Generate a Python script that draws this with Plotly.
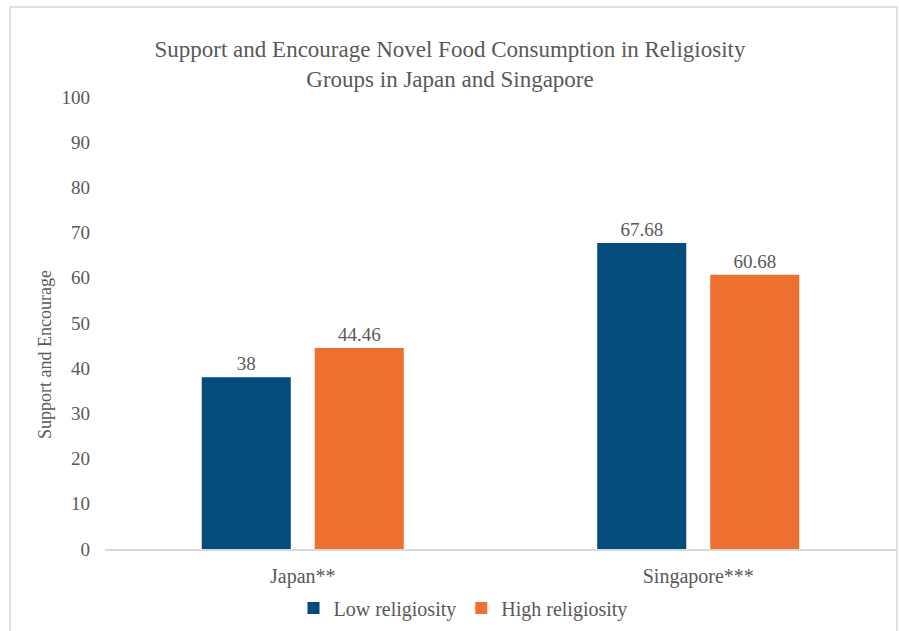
import plotly.graph_objects as go

categories = ["Japan**", "Singapore***"]
low_religiosity = [38, 67.68]
high_religiosity = [44.46, 60.68]
series_names = ["Low religiosity", "High religiosity"]
y_ticks = list(range(0, 101, 10))

BLUE = "#034C7C"
ORANGE = "#EE7030"
TEXT = "#595959"
FONT = "'Liberation Serif', 'Times New Roman', Times, serif"

fig = go.Figure()
fig.add_trace(go.Bar(
    x=categories, y=low_religiosity, name=series_names[0],
    marker=dict(color=BLUE, line=dict(width=0)),
    text=[f"{v:g}" for v in low_religiosity], textposition="outside",
    textfont=dict(family=FONT, size=19, color=TEXT), cliponaxis=False,
))
fig.add_trace(go.Bar(
    x=categories, y=high_religiosity, name=series_names[1],
    marker=dict(color=ORANGE, line=dict(width=0)),
    text=[f"{v:g}" for v in high_religiosity], textposition="outside",
    textfont=dict(family=FONT, size=19, color=TEXT), cliponaxis=False,
))

L, R, T, B = 105, 3, 97, 82
W, H = 899, 631
pw, ph = W - L - R, H - T - B

def px_x(x):
    return (x - L) / pw

def px_y(y):
    return (H - B - y) / ph

fig.update_layout(
    width=W, height=H,
    margin=dict(l=L, r=R, t=T, b=B, autoexpand=False),
    paper_bgcolor="white", plot_bgcolor="white",
    font=dict(family=FONT, color=TEXT, size=19),
    barmode="group", bargap=0.4286, bargroupgap=0.212,
    title=dict(
        text="Support and Encourage Novel Food Consumption in Religiosity<br>Groups in Japan and Singapore",
        font=dict(family=FONT, size=23, color=TEXT),
        x=450 / W, xref="container", xanchor="center",
        y=1 - 57 / H, yanchor="middle",
    ),
    xaxis=dict(
        showline=True, linecolor="#D9D9D9", linewidth=1.5,
        ticks="", showgrid=False, tickfont=dict(family=FONT, size=20, color=TEXT),
        ticklabelstandoff=8,
    ),
    yaxis=dict(
        range=[0, 100], tickvals=y_ticks, showgrid=False, showline=False,
        zeroline=False, ticks="", tickfont=dict(family=FONT, size=19, color=TEXT),
        ticklabelstandoff=14,
    ),
    showlegend=True,
    legend=dict(
        orientation="h", x=px_x(463), xanchor="center",
        y=px_y(608), yanchor="middle",
        font=dict(family=FONT, size=20, color=TEXT), itemwidth=30,
        traceorder="normal",
    ),
    annotations=[dict(
        text="Support and Encourage", textangle=-90,
        x=px_x(45), y=px_y(355), xref="paper", yref="paper",
        xanchor="center", yanchor="middle", showarrow=False,
        font=dict(family=FONT, size=18, color=TEXT),
    )],
    shapes=[dict(
        type="rect", xref="paper", yref="paper",
        x0=px_x(10), x1=px_x(897), y0=px_y(640), y1=px_y(7),
        line=dict(color="#D9D9D9", width=1.5), fillcolor="rgba(0,0,0,0)",
        layer="below",
    )],
)

fig.write_html("out.html")
